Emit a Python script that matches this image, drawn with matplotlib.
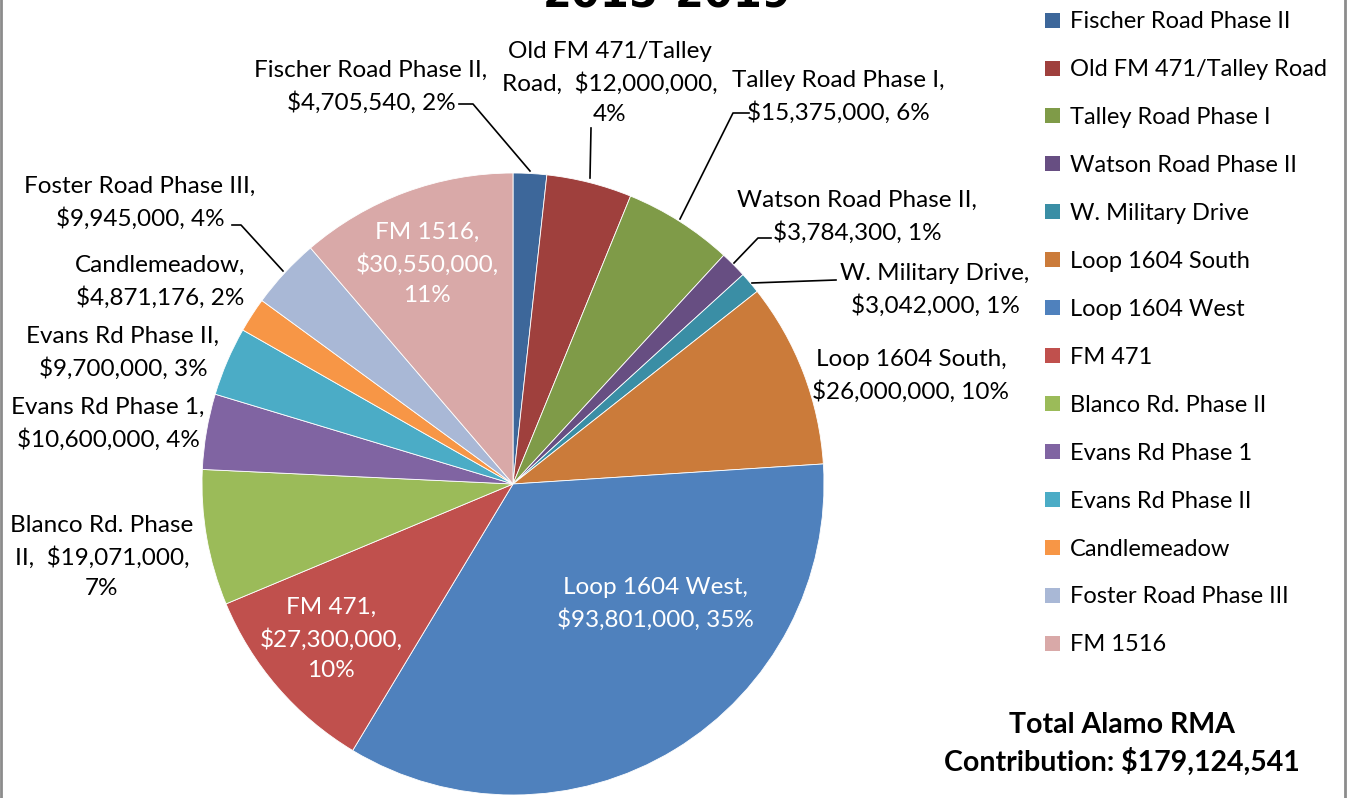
import matplotlib
matplotlib.use("Agg")
import matplotlib.pyplot as plt
from matplotlib.patches import Patch

W, H = 1348, 798

projects = ["Fischer Road Phase II", "Old FM 471/Talley Road", "Talley Road Phase I",
            "Watson Road Phase II", "W. Military Drive", "Loop 1604 South",
            "Loop 1604 West", "FM 471", "Blanco Rd. Phase II", "Evans Rd Phase 1",
            "Evans Rd Phase II", "Candlemeadow", "Foster Road Phase III", "FM 1516"]
amounts = [4705540, 12000000, 15375000, 3784300, 3042000, 26000000,
           93801000, 27300000, 19071000, 10600000, 9700000, 4871176, 9945000, 30550000]
pcts = [2, 4, 6, 1, 1, 10, 35, 10, 7, 4, 3, 2, 4, 11]
colors = ["#3D679A", "#9F403D", "#7F9B48", "#674E82", "#3A8EA5", "#CB7B3A",
          "#4F81BD", "#C0504D", "#9BBB59", "#8064A2", "#4BACC6", "#F79646",
          "#A9B8D6", "#D9A9A8"]
total_text = "Total Alamo RMA\nContribution: $179,124,541"
title = "2015-2019"

# label layout: (text, x_px, y_px of first line, colour, leader points in px)
labels = [
    ("Fischer Road Phase II,\n$4,705,540, 2%", 371, 70, "black", [(459, 104), (473, 104), (530, 171)]),
    ("Old FM 471/Talley\nRoad,  $12,000,000,\n4%", 610, 50, "black", [(591, 128), (590, 178)]),
    ("Talley Road Phase I,\n$15,375,000, 6%", 838, 80, "black", [(749, 113), (733, 113), (680, 219)]),
    ("Watson Road Phase II,\n$3,784,300, 1%", 857, 200, "black", [(771, 238), (758, 238), (734, 263)]),
    ("W. Military Drive,\n$3,042,000, 1%", 935, 273, "black", [(836, 280), (752, 283)]),
    ("Loop 1604 South,\n$26,000,000, 10%", 911, 359, "black", None),
    ("Loop 1604 West,\n$93,801,000, 35%", 655, 587, "white", None),
    ("FM 471,\n$27,300,000,\n10%", 331, 606, "white", None),
    ("Blanco Rd. Phase\nII,  $19,071,000,\n7%", 102, 524, "black", None),
    ("Evans Rd Phase 1,\n$10,600,000, 4%", 108, 407, "black", None),
    ("Evans Rd Phase II,\n$9,700,000, 3%", 123, 336, "black", None),
    ("Candlemeadow,\n$4,871,176, 2%", 160, 265, "black", None),
    ("Foster Road Phase III,\n$9,945,000, 4%", 140, 186, "black", [(232, 225), (241, 225), (283, 271)]),
    ("FM 1516,\n$30,550,000,\n11%", 427, 231, "white", None),
]
line_gap = 33

plt.rcParams['font.family'] = ['Lato', 'DejaVu Sans']
fs = 17.5

fig = plt.figure(figsize=(W / 100, H / 100), dpi=100)
ax = fig.add_axes([0, 0, 1, 1])

def py(y):
    return H - y

wedges, _ = ax.pie(amounts, colors=colors, startangle=90, counterclock=False,
                   center=(513, py(484)), radius=311, frame=True,
                   wedgeprops=dict(edgecolor="white", linewidth=0.6))
ax.set_xlim(0, W)
ax.set_ylim(0, H)
ax.set_aspect("equal")
ax.axis("off")

for text, x, y, c, lead in labels:
    n = text.count("\n")
    ax.text(x, py(y + n * line_gap / 2), text, color=c, fontsize=fs, ha="center",
            va="center", linespacing=1.55)
    if lead:
        ax.plot([p[0] for p in lead], [py(p[1]) for p in lead], color="black", lw=1.2)

handles = [Patch(facecolor=c, edgecolor="none") for c in colors]
fig.legend(handles, projects, loc="upper left", bbox_to_anchor=(1036 / W, 1 - 2 / H),
           frameon=False, fontsize=17, handlelength=0.6, handleheight=0.6,
           handletextpad=0.45, labelspacing=1.14, borderaxespad=0)

fig.text(1122 / W, 1 - 744 / H, total_text, ha="center", va="center",
         fontsize=20.5, fontweight="bold", linespacing=1.45)
fig.text(667 / W, 1 - 8 / H, title, ha="center", va="baseline",
         fontsize=30, fontweight="bold", family="DejaVu Sans")

# chart border
ax.plot([1, 1], [0, H], color="#8C8C8C", lw=2)
ax.plot([1345, 1345], [0, H], color="#8C8C8C", lw=2)

fig.savefig("out.png", dpi=100)
